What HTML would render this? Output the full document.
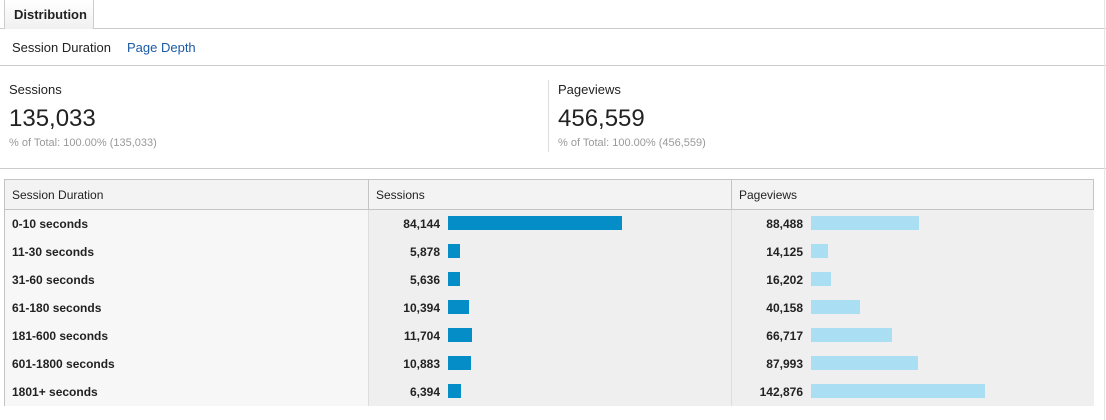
<!DOCTYPE html>
<html><head><meta charset="utf-8"><style>
body{margin:0;width:1106px;height:420px;background:#fff;font-family:"Liberation Sans",Arial,sans-serif;position:relative;overflow:hidden;color:#222}
div,span{position:absolute;box-sizing:border-box}
.t{font-size:13px;white-space:nowrap}
</style></head><body>
<div style="left:0;top:28px;width:1106px;height:1px;background:#ccc"></div>
<div style="left:4px;top:0;width:90px;height:29px;background:linear-gradient(#fff,#f0f0f0);border:1px solid #ccc;border-bottom:none;border-top:none"><span class="t" style="left:9px;top:7px;font-weight:bold;font-size:13px">Distribution</span></div>
<div class="t" style="left:12px;top:40px">Session Duration</div>
<div class="t" style="left:127px;top:40px;color:#1a5aa6">Page Depth</div>
<div style="left:0;top:65px;width:1106px;height:1px;background:#ccc"></div>
<div class="t" style="left:9px;top:82px">Sessions</div>
<div class="t" style="left:9px;top:105px;font-size:24px">135,033</div>
<div class="t" style="left:9px;top:137px;font-size:11px;color:#999">% of Total: 100.00% (135,033)</div>
<div style="left:548px;top:80px;width:1px;height:72px;background:#ddd"></div>
<div class="t" style="left:558px;top:82px">Pageviews</div>
<div class="t" style="left:558px;top:105px;font-size:24px">456,559</div>
<div class="t" style="left:558px;top:137px;font-size:11px;color:#999">% of Total: 100.00% (456,559)</div>
<div style="left:0;top:168px;width:1106px;height:1px;background:#ccc"></div>
<div style="left:1104px;top:0;width:1px;height:420px;background:#e5e5e5"></div>
<div id="tbl" style="left:4px;top:179px;width:1090px;height:227px;border:1px solid #c4c4c4"></div>
<script>
const categories=["0-10 seconds","11-30 seconds","31-60 seconds","61-180 seconds","181-600 seconds","601-1800 seconds","1801+ seconds"];
const sessions=[84144,5878,5636,10394,11704,10883,6394];
const pageviews=[88488,14125,16202,40158,66717,87993,142876];
const headers=["Session Duration","Sessions","Pageviews"];
const tbl=document.getElementById('tbl');
const colX=[0,363,726],colW=[363,363,363];
const bgs=["#f7f7f7","#efefef","#efefef"];
const fmt=v=>v.toLocaleString('en-US');
function mk(p,css){const d=document.createElement('div');d.style.cssText=css;p.appendChild(d);return d;}
const hdr=mk(tbl,'left:0;top:0;width:1088px;height:30px;background:#f3f3f3;border-bottom:1px solid #c4c4c4');


headers.forEach((h,i)=>{const c=mk(hdr,`left:${colX[i]}px;top:0;width:${colW[i]}px;height:29px;${i?'border-left:1px solid #c4c4c4;':''}`);


const s=document.createElement('span');s.className='t';s.style.cssText='left:7px;top:8px;font-size:12px';s.textContent=h;c.appendChild(s);});
const maxS=Math.max(...sessions),maxP=Math.max(...pageviews),barW=174;
const sx=v=>v/maxS*barW, px=v=>v/maxP*barW;
categories.forEach((cat,r)=>{const y=30+r*28;
const row=mk(tbl,`left:0;top:${y}px;width:1088px;height:28px;${r<categories.length-1?'border-bottom:1px solid #ddd;':''}`);


[0,1,2].forEach(i=>{const c=mk(row,`left:${colX[i]}px;top:0;width:${colW[i]}px;height:28px;background:${bgs[i]};${i?'border-left:1px solid #ddd;':''}`);


if(i==0){const s=document.createElement('span');s.className='t';s.style.cssText='left:7px;top:7px;font-size:12px;font-weight:bold';s.textContent=cat;c.appendChild(s);}
else{const v=i==1?sessions[r]:pageviews[r];const w=i==1?sx(v):px(v);
const s=document.createElement('span');s.className='t';s.style.cssText='right:291px;top:7px;font-size:12px;font-weight:bold';s.textContent=fmt(v);c.appendChild(s);


const b=mk(c,`left:79px;top:6px;width:${w}px;height:14px;background:${i==1?'#058dc7':'#aadff3'}`);

}
});});
</script>
</body></html>
